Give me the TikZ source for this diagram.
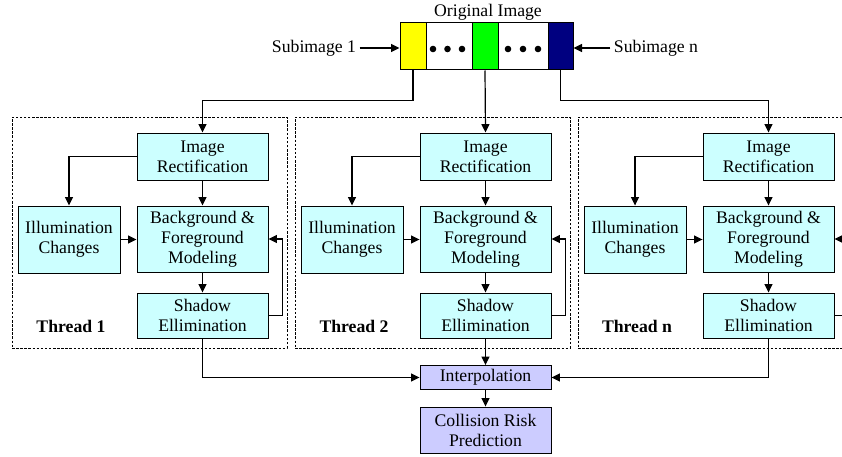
\documentclass[tikz,border=0pt]{standalone}
\usepackage{fontspec}
\setmainfont{Liberation Serif}
\usetikzlibrary{arrows.meta}
\definecolor{cyanfill}{HTML}{CCFFFF}
\definecolor{purplefill}{HTML}{CCCCFF}
\definecolor{navycell}{HTML}{000080}
\definecolor{yellowcell}{HTML}{FFFF00}
\definecolor{greencell}{HTML}{00FF00}
\begin{document}
\begin{tikzpicture}[x=1pt,y=-1pt,
  txt/.style={font=\fontsize{17.7}{20}\selectfont},
  box/.style={draw, line width=0.9pt, align=center, inner sep=0pt, txt},
  mbox/.style={box, execute at begin node={\rule{0pt}{20pt}}},
  cbox/.style={mbox, fill=cyanfill},
  pbox/.style={box, fill=purplefill},
  cell/.style={draw, line width=1pt, minimum height=47pt, inner sep=0pt},
  arr/.style={line width=1.2pt, -{Triangle[length=8.5pt,width=8pt]}},
  thread/.style={draw, line width=0.8pt, dash pattern=on 2.5pt off 1.6pt, inner sep=0pt}
]
\useasboundingbox (0,0) rectangle (842,457);
\clip (0,0) rectangle (842,457);

% original image strip
\node[txt] (orig) at (488,12) {Original Image};
\node[cell, fill=yellowcell, minimum width=26pt] (yel) at (413,46.5) {};
\node[cell, fill=white, minimum width=46pt] (w1) at (449,46.5) {};
\node[cell, fill=greencell, minimum width=26pt] (grn) at (485,46.5) {};
\node[cell, fill=white, minimum width=50pt] (w2) at (523,46.5) {};
\node[cell, fill=navycell, minimum width=25pt] (nav) at (560.5,46.5) {};
\foreach \x in {433,447.5,462,508,523,538} \fill (\x,49) circle (3.3);

\node[txt] (sub1) at (314,48) {Subimage 1};
\node[txt] (subn) at (656,48) {Subimage n};
\draw[arr] (sub1.east) -- (sub1.east -| yel.west);
\draw[arr] (subn.west) -- (subn.west -| nav.east);

% threads
\foreach \i/\dx/\lab in {1/0/1, 2/283/2, 3/566/n}{
  \begin{scope}[xshift=\dx]
    \node[thread, minimum width=275pt, minimum height=231pt] (thr\i) at (149.5,232.5) {};
    \node[cbox, minimum width=131pt, minimum height=47pt] (rect\i) at (202.5,156.5) {Image\\Rectification};
    \node[cbox, minimum width=102pt, minimum height=67pt] (ill\i) at (69,239.5) {Illumination\\Changes};
    \node[cbox, minimum width=131pt, minimum height=66pt] (bg\i) at (202.5,239) {Background \&\\Foreground\\Modeling};
    \node[cbox, minimum width=131pt, minimum height=45pt] (sh\i) at (202.5,315.5) {Shadow\\Ellimination};
    \node[txt, font=\fontsize{17.7}{20}\selectfont\bfseries] (lab\i) at (71,326) {Thread \lab};
    \draw[arr] (rect\i.west) -| (ill\i.north);
    \draw[arr] (rect\i) -- (bg\i);
    \draw[arr] (ill\i.east) -- (ill\i.east -| bg\i.west);
    \draw[arr] (bg\i) -- (sh\i);
    \draw[arr] (sh\i.east) -- ++(14,0) |- (bg\i.east);
  \end{scope}
}

% bottom
\node[pbox, minimum width=131pt, minimum height=24pt] (interp) at (485.5,377.5) {Interpolation};
\node[pbox, mbox, minimum width=131pt, minimum height=46pt] (coll) at (485.5,430) {Collision Risk\\Prediction};

% connections from strip
\draw[arr] (yel.south) -- ++(0,30) -| (rect1.north);
\draw[arr] (grn.south) -- (rect2.north);
\draw[arr] (nav.south) -- ++(0,30) -| (rect3.north);

\draw[arr] (sh1.south) |- (interp.west);
\draw[arr] (sh2.south) -- (interp.north);
\draw[arr] (sh3.south) |- (interp.east);
\draw[arr] (interp) -- (coll);
\end{tikzpicture}
\end{document}
